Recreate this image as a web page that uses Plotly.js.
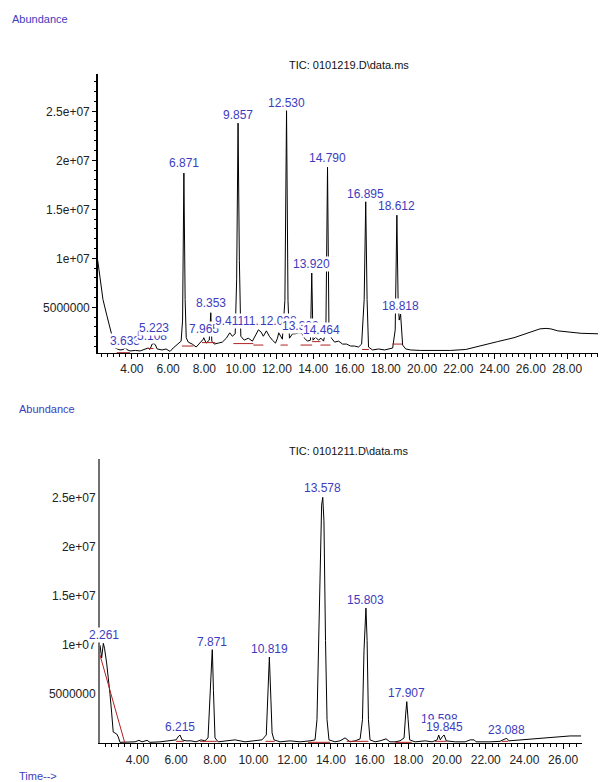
<!DOCTYPE html>
<html><head><meta charset="utf-8">
<script src="https://cdn.plot.ly/plotly-3.0.1.min.js"></script>
<style>html,body{margin:0;padding:0;background:#fff}#chart{width:601px;height:782px}</style>
</head><body><div id="chart"></div>
<script>
// ---------- DATA (time in min, abundance in millions) ----------
const topTime=[2.12,2.25,2.41,2.62,2.85,2.97,3.08,3.35,3.55,3.63,3.72,3.9,4.2,4.46,4.73,4.9,5.0,5.12,5.22,5.29,5.40,5.67,5.89,6.11,6.28,6.45,6.61,6.72,6.80,6.871,6.94,7.0,7.11,7.33,7.55,7.77,7.94,7.965,8.10,8.27,8.353,8.41,8.55,8.77,8.99,9.21,9.40,9.54,9.70,9.78,9.857,9.93,10.01,10.2,10.42,10.65,10.87,10.98,11.12,11.25,11.42,11.58,11.75,11.92,12.03,12.10,12.30,12.44,12.53,12.61,12.69,12.86,13.02,13.19,13.35,13.52,13.68,13.85,13.92,13.99,14.13,14.29,14.43,14.57,14.70,14.79,14.87,15.01,15.18,15.40,15.62,15.84,16.06,16.28,16.5,16.67,16.81,16.895,16.97,17.05,17.27,17.6,17.94,18.16,18.38,18.52,18.612,18.68,18.74,18.818,18.88,18.93,19.1,19.37,19.93,20.48,21.58,22.41,23.24,24.16,25.07,25.7,26.19,26.5,26.83,27.1,27.48,28.1,28.77,29.7];
const topAbund=[9.8,8.0,5.8,4.2,2.6,1.7,0.85,0.65,0.7,0.95,0.7,0.55,0.6,0.55,0.75,0.85,0.7,1.25,1.3,1.2,0.75,0.65,0.75,0.5,0.85,1.15,1.35,1.55,3.7,18.7,5.8,1.9,1.45,1.25,0.95,1.35,1.75,1.9,1.35,1.65,4.45,1.55,1.25,1.35,1.45,1.85,2.4,2.05,2.3,7.8,23.8,9.8,2.05,1.65,1.85,1.55,2.3,2.7,2.5,2.05,2.6,2.05,1.65,1.35,1.85,2.4,1.75,5.7,25.1,5.7,1.85,2.3,2.3,2.4,2.4,1.85,1.55,1.65,8.5,1.65,1.95,1.65,1.85,1.55,2.7,19.3,2.5,1.85,1.45,1.55,1.25,1.25,1.05,1.05,0.95,1.25,5.8,15.8,5.8,0.95,0.65,0.75,0.65,0.75,0.85,2.7,14.4,5.8,3.7,4.3,2.7,1.15,0.75,0.65,0.6,0.6,0.6,0.7,1.05,1.5,1.9,2.3,2.65,2.8,2.85,2.8,2.6,2.45,2.35,2.3];

const topBaseStart=[3.17,4.83,6.76,7.87,9.6,10.7,12.2,13.3,13.94,14.4,16.7,18.36];
const topBaseEnd=[3.9,5.2,7.4,8.6,10.7,11.25,12.6,13.94,14.4,14.95,17.07,18.9];
const topBaseStartY=[0.37,0.8,1.05,1.4,1.3,1.15,1.15,1.15,1.5,1.15,0.7,1.25];
const topBaseEndY=[0.37,0.8,1.05,1.4,1.3,1.15,1.15,1.15,1.5,1.15,0.7,1.25];

const topLabels=["3.633","5.108","5.223","6.871","7.965","8.353","9.411","9.857","11.118","12.098","12.530","13.302","13.920","14.464","14.790","16.895","18.612","18.818"];
const topLabelTime=[3.633,5.108,5.223,6.871,7.965,8.353,9.411,9.857,11.118,12.098,12.530,13.302,13.920,14.464,14.790,16.895,18.612,18.818];
const topLabelAbund=[1.56,2.07,2.89,19.7,2.79,5.44,3.6,24.6,3.6,3.6,25.9,3.1,9.4,2.68,20.2,16.6,15.3,5.13];

const botTime=[2.07,2.15,2.24,2.30,2.41,2.50,2.58,2.67,2.75,2.93,3.01,3.10,3.36,3.88,4.08,4.24,4.5,4.65,5.17,5.53,5.79,6.0,6.10,6.2,6.31,6.51,6.77,7.03,7.29,7.49,7.65,7.75,7.871,7.93,8.01,8.17,8.53,9.05,9.56,10.08,10.44,10.66,10.74,10.819,10.9,10.96,11.06,11.37,11.89,12.4,12.92,13.18,13.28,13.36,13.44,13.52,13.578,13.64,13.72,13.80,13.9,14.21,14.47,14.73,14.99,15.25,15.51,15.63,15.71,15.78,15.81,15.87,15.94,16.02,16.28,16.54,16.85,17.05,17.31,17.57,17.78,17.86,17.92,17.99,18.07,18.35,18.87,19.23,19.49,19.57,19.65,19.75,19.85,19.96,20.42,20.94,21.2,21.4,21.5,22.22,22.74,23.0,23.09,23.2,23.77,24.29,24.8,25.32,25.84,26.36,26.93];
const botAbund=[9.9,8.6,10.1,9.6,8.1,6.7,5.0,3.0,1.05,0.85,0.55,0.0,0.0,0.05,0.2,0.05,0.2,0.0,0.05,0.15,0.15,0.25,0.55,0.75,0.25,0.15,0.15,0.05,0.25,0.15,0.45,5.3,9.6,5.3,0.45,0.05,0.15,0.25,0.05,0.15,0.25,0.75,4.3,8.7,4.3,0.95,0.25,0.05,0.15,0.05,0.15,0.25,2.3,9.4,18.6,24.2,25.0,22.6,10.4,2.3,0.25,0.05,0.15,0.45,0.05,0.15,0.35,2.3,9.4,13.5,13.7,10.4,2.3,0.25,0.05,0.15,0.35,0.05,0.05,0.15,0.45,2.8,4.15,2.3,0.25,0.05,0.15,0.05,0.25,0.75,0.25,0.55,0.75,0.15,0.05,0.05,0.25,0.25,0.05,0.05,0.1,0.35,0.4,0.15,0.25,0.3,0.4,0.5,0.55,0.65,0.65];

const botBaseStart=[2.067,6.0,7.24,10.62,12.82,14.82,17.32,19.38,22.83];
const botBaseEnd=[3.34,6.4,8.1,11.1,13.96,15.94,18.18,19.98,23.17];
const botBaseStartY=[8.9,0.1,0.1,0.1,0.0,0.1,0.0,0.1,0.1];
const botBaseEndY=[0.0,0.1,0.1,0.1,0.0,0.1,0.0,0.1,0.1];

const botLabels=["2.261","6.215","7.871","10.819","13.578","15.803","17.907","19.598","19.845","23.088"];
const botLabelTime=[2.261,6.215,7.871,10.819,13.578,15.803,17.907,19.59,19.845,23.088];
const botLabelAbund=[10.95,1.53,10.27,9.49,25.95,14.52,5.0,2.4,1.53,1.26];

const yTickVals=[5,10,15,20,25];
const yTickText=["5000000","1e+07","1.5e+07","2e+07","2.5e+07"];
const topTitle="TIC: 0101219.D\\data.ms";
const botTitle="TIC: 0101211.D\\data.ms";

// ---------- BUILD ----------
const FONT="Liberation Sans, Arial, sans-serif";
const BLUE="#3c3cbe";
const RED="#b22222";
function segs(s,e,sy,ey){const x=[],y=[];for(let i=0;i<s.length;i++){x.push(s[i],e[i],null);y.push(sy[i],ey[i],null);}return {x,y};}
const tr=segs(topBaseStart,topBaseEnd,topBaseStartY,topBaseEndY);
const br=segs(botBaseStart,botBaseEnd,botBaseStartY,botBaseEndY);

const traces=[
 {x:topTime,y:topAbund,xaxis:'x',yaxis:'y',mode:'lines',line:{color:'#000',width:1},hoverinfo:'skip'},
 {x:tr.x,y:tr.y,xaxis:'x',yaxis:'y',mode:'lines',line:{color:RED,width:1},connectgaps:false,hoverinfo:'skip'},
 {x:botTime,y:botAbund,xaxis:'x2',yaxis:'y2',mode:'lines',line:{color:'#000',width:1},hoverinfo:'skip'},
 {x:br.x,y:br.y,xaxis:'x2',yaxis:'y2',mode:'lines',line:{color:RED,width:1},connectgaps:false,hoverinfo:'skip'}
];

const ann=[];
topLabels.forEach((t,i)=>ann.push({xref:'x',yref:'y',x:topLabelTime[i],y:topLabelAbund[i],text:t,showarrow:false,font:{family:FONT,size:12,color:BLUE},bgcolor:'#fff',borderpad:0}));
botLabels.forEach((t,i)=>ann.push({xref:'x2',yref:'y2',x:botLabelTime[i],y:botLabelAbund[i],text:t,showarrow:false,font:{family:FONT,size:12,color:BLUE},bgcolor:'#fff',borderpad:0}));
const W=601,H=782;
function pt(px,py,text,color,anchor){return {xref:'paper',yref:'paper',x:px/W,y:1-py/H,text:text,showarrow:false,xanchor:anchor||'left',yanchor:'middle',font:{family:FONT,size:11,color:color}};}
ann.push(pt(10,19,"Abundance",BLUE));
ann.push(pt(17,409,"Abundance",BLUE));
ann.push(pt(17,776,"Time-->",BLUE));
ann.push(pt(349,65,topTitle,"#111",'center'));
ann.push(pt(349,451,botTitle,"#111",'center'));

const xCommon={tickmode:'linear',tick0:0,dtick:2,tickformat:'.2f',ticks:'outside',ticklen:5,tickcolor:'#000',showline:true,linecolor:'#000',linewidth:1,showgrid:false,zeroline:false,tickfont:{family:FONT,size:12,color:'#222'},minor:{tickmode:'linear',tick0:0,dtick:1/3,ticks:'outside',ticklen:3,tickcolor:'#000',showgrid:false}};

const layout={
 width:W,height:H,margin:{l:0,r:0,t:0,b:0},paper_bgcolor:'#fff',plot_bgcolor:'#fff',showlegend:false,
 xaxis:Object.assign({},xCommon,{domain:[97.7/W,598/W],range:[2.12,29.7],anchor:'y'}),
 yaxis:{domain:[1-353/H,1-74/H],range:[0.34,28.81],anchor:'x',tickmode:'array',tickvals:yTickVals,ticktext:yTickText,ticks:'outside',ticklen:4,tickcolor:'#000',showline:true,linecolor:'#000',linewidth:1.5,showgrid:false,zeroline:false,tickfont:{family:FONT,size:12,color:'#222'},minor:{tickmode:'linear',tick0:0,dtick:1,ticks:'outside',ticklen:2,tickcolor:'#000',showgrid:false}},
 xaxis2:Object.assign({},xCommon,{domain:[100/W,581.7/W],range:[2.067,26.96],anchor:'y2'}),
 yaxis2:{domain:[1-743.3/H,1-459.3/H],range:[-0.1,28.88],anchor:'x2',tickmode:'array',tickvals:yTickVals,ticktext:yTickText,ticks:'',showline:true,linecolor:'#707070',linewidth:2,showgrid:false,zeroline:false,tickfont:{family:FONT,size:12,color:'#222'}},
 annotations:ann
};
Plotly.newPlot('chart',traces,layout,{staticPlot:true,displayModeBar:false});
</script></body></html>
